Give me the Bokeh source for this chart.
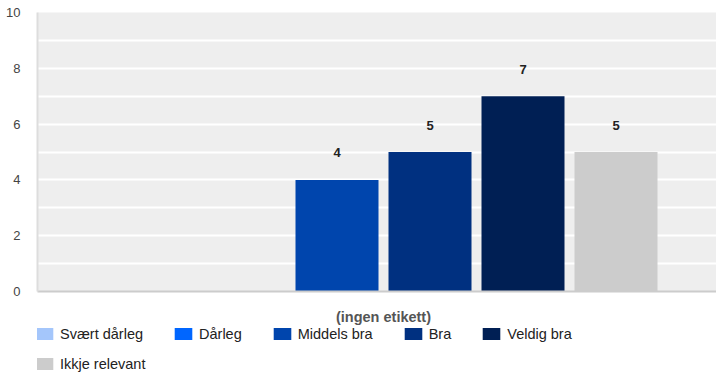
from bokeh.plotting import figure
from bokeh.layouts import column
from bokeh.models import (ColumnDataSource, Range1d, FixedTicker, Legend, LegendItem)
from bokeh.core.properties import value
from bokeh.embed import file_html
from bokeh.resources import INLINE

categories = ["Svært dårleg", "Dårleg", "Middels bra", "Bra", "Veldig bra", "Ikkje relevant"]
counts = [0, 0, 4, 5, 7, 5]
colors = ["#a4c6fb", "#0066ff", "#0045ad", "#003080", "#001f54", "#cccccc"]
group_label = "(ingen etikett)"
y_ticks = [0, 2, 4, 6, 8, 10]
y_minor = [1, 3, 5, 7, 9]
legend_rows = [[0, 1, 2, 3, 4], [5]]

FONT = "Liberation Sans"

xs = list(range(len(categories)))
src = ColumnDataSource(dict(x=xs, top=counts, color=colors, cat=categories))
lab_idx = [i for i, v in enumerate(counts) if v > 0]
lab_src = ColumnDataSource(dict(x=[xs[i] for i in lab_idx],
                                y=[counts[i] for i in lab_idx],
                                t=[str(counts[i]) for i in lab_idx]))

X_RANGE = (-1.2204, 6.0806)

p = figure(width=716, height=327, output_backend="svg", toolbar_location=None,
           x_range=Range1d(*X_RANGE), y_range=Range1d(0, 10),
           min_border_left=37, min_border_right=0, min_border_top=12, min_border_bottom=36)
p.outline_line_color = None
p.background_fill_color = "#eeeeee"
p.border_fill_color = "white"

r = p.vbar(x="x", top="top", width=0.8925, color="color", source=src, line_color=None)
p.text(x="x", y="y", text="t", source=lab_src, text_align="center", text_baseline="middle",
       y_offset=-27, text_font_size="13px", text_font_style="bold", text_color="#222222",
       text_font=value(FONT))

# axes
p.yaxis.ticker = FixedTicker(ticks=y_ticks, minor_ticks=y_minor)
p.yaxis.major_tick_line_color = None
p.yaxis.minor_tick_line_color = None
p.yaxis.axis_line_color = "#dddddd"
p.yaxis.axis_line_width = 2
p.yaxis.major_label_text_font = FONT
p.yaxis.major_label_text_font_size = "13px"
p.yaxis.major_label_text_color = "#444444"
p.yaxis.major_label_standoff = 11

mid = (len(categories) - 1) / 2
p.xaxis.ticker = FixedTicker(ticks=[mid])
p.xaxis.major_label_overrides = {mid: group_label}
p.xaxis.major_tick_line_color = None
p.xaxis.minor_tick_line_color = None
p.xaxis.axis_line_color = "#cccccc"
p.xaxis.axis_line_width = 2
p.xaxis.major_label_text_font = FONT
p.xaxis.major_label_text_font_size = "14.5px"
p.xaxis.major_label_text_font_style = "bold"
p.xaxis.major_label_text_color = "#555555"
p.xaxis.major_label_standoff = 11

p.xgrid.grid_line_color = None
p.ygrid.grid_line_color = "white"
p.ygrid.grid_line_width = 2
p.ygrid.minor_grid_line_color = "white"
p.ygrid.minor_grid_line_width = 2

# legend figure (shares the data source; bars kept out of view)
lf = figure(width=716, height=47, output_backend="svg", toolbar_location=None,
            x_range=Range1d(*X_RANGE), y_range=Range1d(100, 101),
            x_axis_type=None, y_axis_type=None,
            min_border_left=0, min_border_right=0, min_border_top=0, min_border_bottom=0)
lf.outline_line_color = None
lf.grid.grid_line_color = None
lr = lf.vbar(x="x", top="top", width=0.8925, color="color", source=src, line_color=None)

def make_legend(idxs, loc):
    items = [LegendItem(label=categories[i], renderers=[lr], index=i) for i in idxs]
    return Legend(items=items, orientation="horizontal", location=loc,
                  spacing=29, label_standoff=5, glyph_width=22, glyph_height=15,
                  padding=0, margin=0, border_line_alpha=0, background_fill_alpha=0,
                  label_text_font=FONT, label_text_font_size="14.5px", label_height=15,
                  label_text_color="#222222")

lf.add_layout(make_legend(legend_rows[0], (-4, 32.5)), "center")
lf.add_layout(make_legend(legend_rows[1], (-4, 2.5)), "center")

layout = column(p, lf, spacing=0)
open("out.html", "w").write(file_html(layout, INLINE))
